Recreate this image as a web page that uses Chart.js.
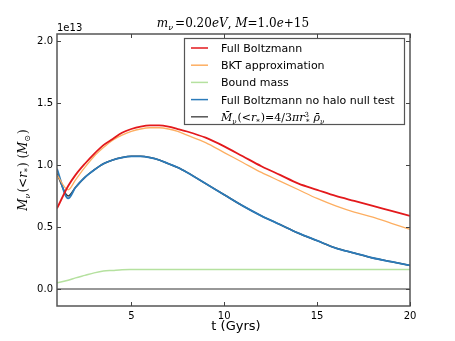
<!DOCTYPE html>
<html>
<head>
<meta charset="utf-8">
<script src="https://cdn.jsdelivr.net/npm/chart.js@4/dist/chart.umd.min.js"></script>
<style>
  html, body { margin: 0; padding: 0; background: #fff; }
  #wrap { width: 455px; height: 341px; }
</style>
</head>
<body>
<div id="wrap"><canvas id="chart" width="455" height="341"></canvas></div>
<script>
// time in Gyrs, masses in units of 1e13 M_sun
const times = [1, 1.6, 2, 2.5, 3, 3.5, 4, 4.5, 5, 5.5, 6, 6.5, 7, 7.5, 8, 9, 10, 11, 12, 13, 14, 15, 16, 17, 18, 19, 20];
const fullBoltzmann = [0.65, 0.83, 0.92, 1.01, 1.09, 1.16, 1.21, 1.26, 1.29, 1.31, 1.32, 1.32, 1.31, 1.29, 1.27, 1.22, 1.15, 1.07, 0.99, 0.92, 0.85, 0.80, 0.75, 0.71, 0.67, 0.63, 0.59];
const bktApprox = [0.92, 0.80, 0.88, 0.98, 1.07, 1.14, 1.20, 1.24, 1.27, 1.29, 1.30, 1.30, 1.29, 1.27, 1.24, 1.18, 1.10, 1.02, 0.94, 0.87, 0.80, 0.73, 0.67, 0.62, 0.58, 0.53, 0.48];
const boundMass = [0.05, 0.07, 0.09, 0.11, 0.13, 0.145, 0.15, 0.155, 0.157, 0.158, 0.158, 0.158, 0.158, 0.158, 0.158, 0.158, 0.158, 0.158, 0.158, 0.158, 0.158, 0.158, 0.158, 0.158, 0.158, 0.158, 0.158];
const noHaloNull = [0.97, 0.73, 0.82, 0.90, 0.96, 1.01, 1.04, 1.06, 1.07, 1.07, 1.06, 1.04, 1.01, 0.98, 0.94, 0.85, 0.76, 0.67, 0.59, 0.52, 0.45, 0.39, 0.33, 0.29, 0.25, 0.22, 0.19];
const meanDensity = [0.93, 0.75, 0.82, 0.90, 0.96, 1.01, 1.04, 1.06, 1.07, 1.07, 1.06, 1.04, 1.01, 0.98, 0.94, 0.85, 0.76, 0.67, 0.59, 0.52, 0.45, 0.39, 0.33, 0.29, 0.25, 0.22, 0.19];
const zeroLine = times.map(() => 0);

const xTicks = [5, 10, 15, 20];
const yTicks = [0, 0.5, 1.0, 1.5, 2.0];

const colors = {
    red: '#e3191c',
    orange: '#fdae61',
    green: '#b5e19f',
    blue: '#2b7bba',
    black: '#333333'
};

function pts(values) {
    return times.map((t, i) => ({ x: t, y: values[i] }));
}

// legend rows: colour + how to write the label
const legendRows = [
    { color: colors.red, text: 'Full Boltzmann' },
    { color: colors.orange, text: 'BKT approximation' },
    { color: colors.green, text: 'Bound mass' },
    { color: colors.blue, text: 'Full Boltzmann no halo null test' },
    { color: '#555', math: true }
];

// draws a list of [text, font, dy, extra gap] pieces one after another
function drawPieces(ctx, pieces, x, y) {
    let cx = x;
    pieces.forEach(p => {
        ctx.font = p[1];
        ctx.fillText(p[0], cx, y + (p[2] || 0));
        cx += ctx.measureText(p[0]).width + (p[3] || 0);
    });
    return cx - x;
}
function piecesWidth(ctx, pieces) {
    let w = 0;
    pieces.forEach(p => { ctx.font = p[1]; w += ctx.measureText(p[0]).width + (p[3] || 0); });
    return w;
}

const serifI = 'italic 12px "DejaVu Serif"';
const serif = '12px "DejaVu Serif"';
const serifSub = 'italic 8px "DejaVu Serif"';

const decorPlugin = {
    id: 'decor',
    afterDatasetsDraw(chart) {
        const ctx = chart.ctx;
        const a = chart.chartArea;
        const xs = chart.scales.x, ys = chart.scales.y;
        ctx.save();
        // frame
        ctx.strokeStyle = '#555';
        ctx.lineWidth = 1.5;
        ctx.strokeRect(a.left, a.top, a.right - a.left, a.bottom - a.top);
        // inward ticks all four sides
        ctx.lineWidth = 1;
        ctx.strokeStyle = '#444';
        ctx.beginPath();
        xTicks.forEach(v => {
            const px = Math.round(xs.getPixelForValue(v)) + 0.5;
            ctx.moveTo(px, a.bottom); ctx.lineTo(px, a.bottom - 4);
            ctx.moveTo(px, a.top); ctx.lineTo(px, a.top + 4);
        });
        yTicks.forEach(v => {
            const py = Math.round(ys.getPixelForValue(v)) + 0.5;
            ctx.moveTo(a.left, py); ctx.lineTo(a.left + 4, py);
            ctx.moveTo(a.right, py); ctx.lineTo(a.right - 4, py);
        });
        ctx.stroke();

        // title
        ctx.fillStyle = '#000';
        ctx.textBaseline = 'alphabetic';
        const title = [['m', serifI], ['ν', serifSub, 3, 2], ['=0.20', serif], ['eV', serifI], [', ', serif], ['M', serifI], ['=1.0', serif], ['e', serifI], ['+15', serif]];
        const tw = piecesWidth(ctx, title);
        drawPieces(ctx, title, 233 - tw / 2, 27);

        // offset text
        ctx.font = '10px "DejaVu Sans"';
        ctx.fillText('1e13', 57, 31);

        // x label
        ctx.font = '13px "DejaVu Sans"';
        ctx.textAlign = 'center';
        ctx.fillText('t (Gyrs)', 236, 330);
        ctx.textAlign = 'left';

        // y label (rotated)
        ctx.save();
        ctx.translate(27, 170);
        ctx.rotate(-Math.PI / 2);
        const ylab = [['M', serifI], ['ν', serifSub, 3, 1], ['(<', serif], ['r', serifI], ['*', serifSub, 3, 1], [') (', serif], ['M', serifI], ['⊙', '8px "DejaVu Sans"', 3, 1], [')', serif]];
        const yw = piecesWidth(ctx, ylab);
        drawPieces(ctx, ylab, -yw / 2, 0);
        ctx.restore();

        // legend box
        const lx = 184, ly = 38, lw = 220, lh = 86;
        ctx.fillStyle = '#fff';
        ctx.fillRect(lx, ly, lw, lh);
        ctx.strokeStyle = '#555';
        ctx.lineWidth = 1.2;
        ctx.strokeRect(lx + 0.5, ly + 0.5, lw, lh);
        legendRows.forEach((r, i) => {
            const y = 48 + i * 17.2;
            ctx.strokeStyle = r.color;
            ctx.lineWidth = 1.5;
            ctx.beginPath();
            ctx.moveTo(191, y); ctx.lineTo(208, y);
            ctx.stroke();
            ctx.fillStyle = '#000';
            if (r.math) {
                const mi = 'italic 11px "DejaVu Serif"', m = '11px "DejaVu Serif"', s = 'italic 7px "DejaVu Serif"';
                drawPieces(ctx, [['M̄', mi], ['ν', s, 3, 1], ['(<', m], ['r', mi], ['*', s, 3, 1], [')=4/3', m], ['π', mi], ['r', mi], ['3', '7px "DejaVu Serif"', -4, -3], ['*', s, 3, 4], ['ρ̄', mi], ['ν', s, 3, 0]], 221, y + 4);
            } else {
                ctx.font = '11px "DejaVu Sans"';
                ctx.fillText(r.text, 221, y + 4);
            }
        });
        ctx.restore();
    }
};

const common = { fill: false, pointRadius: 0, cubicInterpolationMode: 'monotone' };

// first dataset is drawn on top in Chart.js
new Chart(document.getElementById('chart'), {
    type: 'line',
    data: {
        datasets: [
            { ...common, label: 'Full Boltzmann', data: pts(fullBoltzmann), borderColor: colors.red, borderWidth: 1.8 },
            { ...common, label: 'BKT approximation', data: pts(bktApprox), borderColor: colors.orange, borderWidth: 1.3 },
            { ...common, label: 'Full Boltzmann no halo null test', data: pts(noHaloNull), borderColor: colors.blue, borderWidth: 1.8 },
            { ...common, label: 'mean density', data: pts(meanDensity), borderColor: colors.black, borderWidth: 1.5 },
            { ...common, label: 'Bound mass', data: pts(boundMass), borderColor: colors.green, borderWidth: 1.5 },
            { ...common, label: 'zero', data: pts(zeroLine), borderColor: colors.black, borderWidth: 1.2 }
        ]
    },
    options: {
        responsive: false,
        animation: false,
        layout: { padding: { left: 0, right: 45, top: 34, bottom: 0 } },
        plugins: { legend: { display: false }, tooltip: { enabled: false } },
        scales: {
            x: {
                type: 'linear', min: 1, max: 20,
                afterBuildTicks: s => { s.ticks = xTicks.map(v => ({ value: v })); },
                afterFit: s => { s.height = 35; },
                grid: { display: false, drawTicks: false },
                border: { display: false },
                ticks: { color: '#000', font: { family: 'DejaVu Sans', size: 10 }, padding: 4, maxRotation: 0 }
            },
            y: {
                type: 'linear', min: -0.137, max: 2.056,
                afterBuildTicks: s => { s.ticks = yTicks.map(v => ({ value: v })); },
                afterFit: s => { s.width = 57; },
                grid: { display: false, drawTicks: false },
                border: { display: false },
                ticks: { color: '#000', font: { family: 'DejaVu Sans', size: 10 }, padding: 4, callback: v => v.toFixed(1) }
            }
        }
    },
    plugins: [decorPlugin]
});
</script>
</body>
</html>
